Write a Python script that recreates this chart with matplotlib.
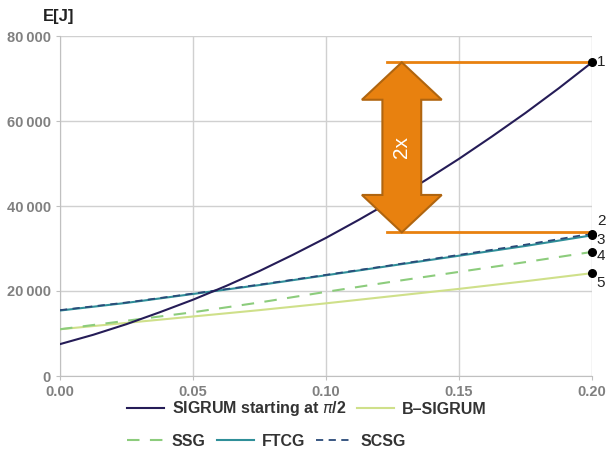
import matplotlib
matplotlib.use("Agg")
import matplotlib.pyplot as plt
from matplotlib.patches import Polygon

plt.rcParams['font.family'] = ['Liberation Sans', 'DejaVu Sans']

# data
x_sig = [0.0, 0.0125, 0.025, 0.0375, 0.05, 0.0625, 0.075, 0.0875, 0.10,
         0.1125, 0.125, 0.1375, 0.15, 0.1625, 0.175, 0.1875, 0.20]
sigrum = [7500, 9700, 12200, 15000, 17950, 21200, 24700, 28500, 32500,
          36800, 41300, 46100, 51100, 56400, 61900, 67700, 73800]
x = [0.0, 0.025, 0.05, 0.075, 0.10, 0.125, 0.15, 0.175, 0.20]
b_sigrum = [11000, 12500, 14000, 15500, 17100, 18800, 20500, 22300, 24200]
ssg = [11000, 13000, 15000, 17300, 19800, 22200, 24500, 26800, 29200]
ftcg = [15400, 17200, 19300, 21400, 23700, 26000, 28300, 30600, 33100]
scsg = [15500, 17300, 19400, 21500, 23800, 26100, 28500, 30900, 33500]
end_labels = ["1", "2", "3", "4", "5"]
yticks = [0, 20000, 40000, 60000, 80000]
ytick_labels = ["0", "20\u2009000", "40\u2009000", "60\u2009000", "80\u2009000"]
xticks = [0.0, 0.05, 0.10, 0.15, 0.20]
xtick_labels = ["0.00", "0.05", "0.10", "0.15", "0.20"]

c_sig = "#251c57"
c_bsig = "#cfe08a"
c_ssg = "#8ccc7c"
c_ftcg = "#2f8f99"
c_scsg = "#2a4a78"
orange = "#e8810f"
orange_dark = "#b0650f"

fig = plt.figure(figsize=(6.08, 4.53), dpi=100)
ax = fig.add_axes([60/608, 1-376/453, 532/608, 340/453])
ax.set_xlim(0, 0.2)
ax.set_ylim(0, 80000)

ax.plot(x_sig, sigrum, color=c_sig, lw=1.5, label="SIGRUM starting at $\\pi$/2", zorder=4)
ax.plot(x, b_sigrum, color=c_bsig, lw=1.5, label="B\u2013SIGRUM", zorder=3)
ax.plot(x, ssg, color=c_ssg, lw=1.5, ls=(0, (6, 5)), label="SSG", zorder=3)
ax.plot(x, ftcg, color=c_ftcg, lw=1.5, label="FTCG", zorder=3)
ax.plot(x, scsg, color=c_scsg, lw=1.3, ls=(0, (4, 3)), label="SCSG", zorder=3)

# end points
ends = [sigrum[-1], ftcg[-1], scsg[-1], ssg[-1], b_sigrum[-1]]
ax.scatter([x[-1]]*5, ends, s=30, color="black", zorder=6, clip_on=False)
label_y = [sigrum[-1], 36400, 32000, 28200, 21900]
for lbl, ly in zip(end_labels, label_y):
    ax.text(0.2018, ly, lbl, fontsize=11, color="#222222", va="center", ha="left",
            clip_on=False)

# grid
ax.grid(True, color="#d0d0d0", lw=1.0)
ax.set_axisbelow(True)
for s in ["top", "right"]:
    ax.spines[s].set_visible(False)
for s in ["left", "bottom"]:
    ax.spines[s].set_color("#c0c0c0")
ax.set_yticks(yticks)
ax.set_yticklabels(ytick_labels)
ax.set_xticks(xticks)
ax.set_xticklabels(xtick_labels)
ax.tick_params(colors="#c0c0c0", labelcolor="#808080", labelsize=10.5, length=3)
for t in ax.get_xticklabels() + ax.get_yticklabels():
    t.set_fontweight("bold")
ax.text(-0.0005, 84500, "E[J]", fontsize=12, fontweight="bold", color="#222222",
        ha="center", va="center", clip_on=False)

# orange annotation
top = sigrum[-1]
bot = 33800
ax.plot([0.123, 0.2], [top, top], color=orange, lw=2, zorder=5, clip_on=False)
ax.plot([0.123, 0.2], [bot, bot], color=orange, lw=2, zorder=5, clip_on=False)
xc = 0.1285
hw = 0.0150
sw = 0.0073
hh = 8800
poly = [(xc, top), (xc + hw, top - hh), (xc + sw, top - hh), (xc + sw, bot + hh),
        (xc + hw, bot + hh), (xc, bot), (xc - hw, bot + hh), (xc - sw, bot + hh),
        (xc - sw, top - hh), (xc - hw, top - hh)]
ax.add_patch(Polygon(poly, closed=True, facecolor=orange, edgecolor=orange_dark,
                     lw=1.5, zorder=5))
ax.text(xc, (top + bot) / 2, "2x", rotation=90, color="white", fontsize=15,
        ha="center", va="center", zorder=6)

# legends
h = {l.get_label(): l for l in ax.get_lines()}
common = dict(loc="center left", frameon=False, handlelength=2.3, handletextpad=0.5,
              columnspacing=0.7, prop={"weight": "bold", "size": 11.5},
              borderaxespad=0, borderpad=0)
leg1 = fig.legend([h["SIGRUM starting at $\\pi$/2"], h["B\u2013SIGRUM"]],
                  ["SIGRUM starting at $\\pi$/2", "B\u2013SIGRUM"],
                  bbox_to_anchor=(127/608, 1-409/453), ncol=2, **common)
leg2 = fig.legend([h["SSG"], h["FTCG"], h["SCSG"]], ["SSG", "FTCG", "SCSG"],
                  bbox_to_anchor=(127/608, 1-441/453), ncol=3, **common)
for leg in (leg1, leg2):
    for t in leg.get_texts():
        t.set_color("#333333")

fig.savefig("out.png", dpi=100)
